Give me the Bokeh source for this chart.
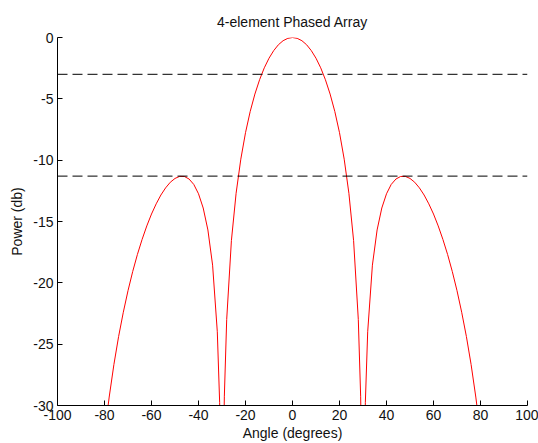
from bokeh.plotting import figure
from bokeh.models import Span, Range1d, FixedTicker
from bokeh.embed import file_html
from bokeh.resources import INLINE

# Angle samples (degrees) and array power pattern (dB)
angles = [-80, -79, -78, -76, -74, -72, -70, -68, -66, -64, -62, -60, -58, -56,
          -54, -52, -50, -48, -46, -44, -42, -40, -38, -36, -34, -32, -31,
          -30.5, -29.5, -29, -28, -26, -24, -22, -20, -18, -16, -14, -12, -10,
          -8, -6, -4, -2, 0, 2, 4, 6, 8, 10, 12, 14, 16, 18, 20, 22, 24, 26,
          28, 29, 29.5, 30.5, 31, 32, 34, 36, 38, 40, 42, 44, 46, 48, 50, 52,
          54, 56, 58, 60, 62, 64, 66, 68, 70, 72, 74, 76, 78, 79, 80]
power_db = [-32.46, -30.81, -29.31, -26.66, -24.38, -22.40, -20.64, -19.08,
            -17.69, -16.46, -15.36, -14.39, -13.56, -12.84, -12.26, -11.80,
            -11.49, -11.32, -11.33, -11.54, -11.98, -12.74, -13.90, -15.69,
            -18.56, -23.99, -29.74, -35.63, -35.37, -29.24, -22.99, -16.56,
            -12.70, -9.92, -7.76, -6.03, -4.61, -3.44, -2.47, -1.69, -1.07,
            -0.59, -0.26, -0.07, 0.0, -0.07, -0.26, -0.59, -1.07, -1.69, -2.47,
            -3.44, -4.61, -6.03, -7.76, -9.92, -12.70, -16.56, -22.99, -29.24,
            -35.37, -35.63, -29.74, -23.99, -18.56, -15.69, -13.90, -12.74,
            -11.98, -11.54, -11.33, -11.32, -11.49, -11.80, -12.26, -12.84,
            -13.56, -14.39, -15.36, -16.46, -17.69, -19.08, -20.64, -22.40,
            -24.38, -26.66, -29.31, -30.81, -32.46]

half_power_db = -3.0
sidelobe_db = -11.3

x_ticks = [-100, -80, -60, -40, -20, 0, 20, 40, 60, 80, 100]
y_ticks = [-30, -25, -20, -15, -10, -5, 0]

FONT = "Liberation Sans"
FS = "14px"
TXT = "#111111"

p = figure(width=538, height=443, output_backend="svg", toolbar_location=None,
           x_range=Range1d(-100, 100), y_range=Range1d(-30, 0),
           title="4-element Phased Array",
           min_border_left=57, min_border_right=11, min_border_top=37,
           min_border_bottom=36)
p.outline_line_color = None
p.grid.visible = False
p.background_fill_color = "white"
p.border_fill_color = "white"

p.title.text_font = FONT
p.title.text_font_size = FS
p.title.text_font_style = "normal"
p.title.text_color = TXT
p.title.align = "center"
p.title.standoff = 16

for ax, ticks in ((p.xaxis[0], x_ticks), (p.yaxis[0], y_ticks)):
    ax.ticker = FixedTicker(ticks=ticks)
    ax.major_label_overrides = {t: str(t) for t in ticks}
    ax.major_tick_in = 5
    ax.major_tick_out = 0
    ax.minor_tick_line_color = None
    ax.axis_line_color = "black"
    ax.major_tick_line_color = "black"
    ax.major_label_text_font = FONT
    ax.major_label_text_font_size = FS
    ax.major_label_text_color = TXT
    ax.axis_label_text_font = FONT
    ax.axis_label_text_font_size = FS
    ax.axis_label_text_font_style = "normal"
    ax.axis_label_text_color = TXT
    ax.major_label_standoff = 4

p.xaxis.axis_label = "Angle (degrees)"
p.yaxis.axis_label = "Power (db)"
p.xaxis.axis_label_standoff = 2
p.yaxis.axis_label_standoff = 5

p.line(angles, power_db, line_color="red", line_width=1)

for lvl in (half_power_db, sidelobe_db):
    p.add_layout(Span(location=lvl, dimension="width", line_color="black",
                      line_width=1, line_dash="10 5"))

open("out.html", "w").write(file_html(p, INLINE))
